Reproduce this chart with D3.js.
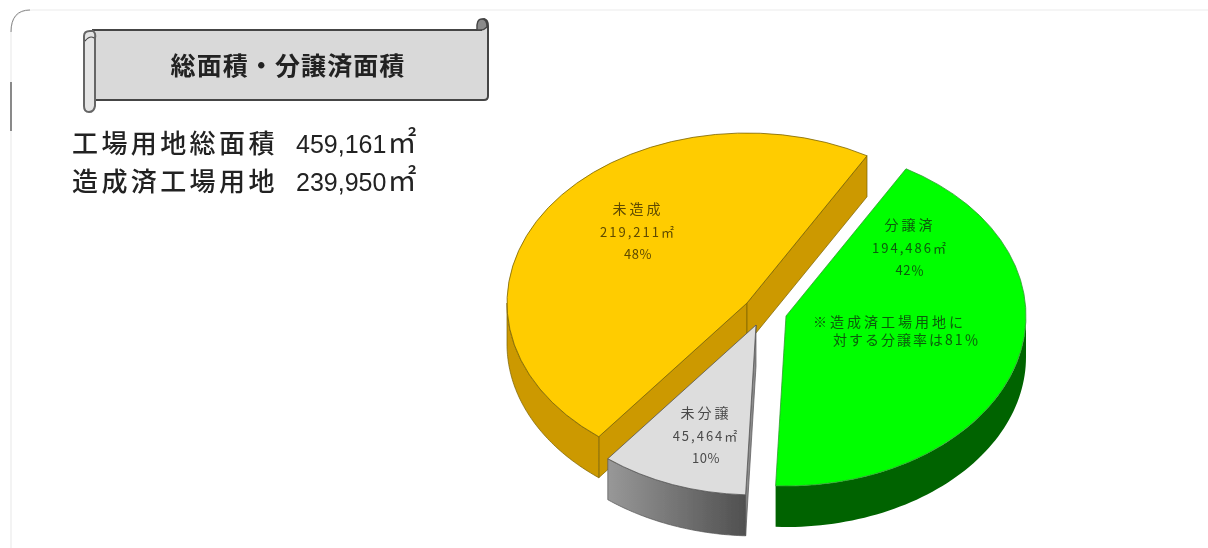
<!DOCTYPE html>
<html lang="ja">
<head>
<meta charset="UTF-8">
<title>総面積・分譲済面積</title>
<script src="https://d3js.org/d3.v7.min.js"></script>
<style>
    html, body { margin: 0; background: #fff; overflow: hidden; }
    svg { display: block; }
    text { font-family: "Noto Sans CJK JP", sans-serif; fill: #222; }
    .num { font-family: "Liberation Sans", sans-serif; }
</style>
</head>
<body>
<svg width="1208" height="548" viewBox="0 0 1208 548"></svg>
<script>
    // values
    const sliceNames = ['分譲済', '未分譲', '未造成'];
    const sliceAreas = [194486, 45464, 219211];
    const sliceAreaText = ['194,486㎡', '45,464㎡', '219,211㎡'];
    const slicePercentText = ['42％', '10%', '48%'];
    const topColors = ['#00ff00', '#dddddd', '#ffcc00'];
    const wallColors = ['#006400', 'url(#grayWall)', '#cc9900'];
    const edgeColors = ['#2f9d2f', '#555555', '#7a6200'];
    const labelColors = ['#0b5a0b', '#4a4a4a', '#5e4a00'];

    const titleText = '総面積・分譲済面積';
    const summaryNames = ['工場用地総面積', '造成済工場用地'];
    const summaryValues = ['459,161', '239,950'];
    const summaryUnit = '㎡';
    const noteLines = ['※造成済工場用地に', '対する分譲率は81％'];

    // pie layout
    const rx = 240, ry = 170, depth = 41;
    const centers = [{x: 786, y: 316}, {x: 756, y: 325}, {x: 747, y: 303}];
    const labelAt = [{x: 910, y: 225}, {x: 706, y: 413}, {x: 638, y: 209}];

    let svg = d3.select('svg');
    let defs = svg.append('defs');
    let grad = defs.append('linearGradient').attr('id', 'grayWall');
    grad.append('stop').attr('offset', '0%').attr('stop-color', '#989898');
    grad.append('stop').attr('offset', '100%').attr('stop-color', '#505050');
    let soft = defs.append('filter').attr('id', 'soft');
    soft.append('feGaussianBlur').attr('stdDeviation', 0.45);
    let softer = defs.append('filter').attr('id', 'softer');
    softer.append('feGaussianBlur').attr('stdDeviation', 0.6);

    // card outline
    svg.append('path')
        .attr('d', 'M11,548 V32 Q11,10 33,10 H1208')
        .attr('fill', 'none').attr('stroke', '#ececec').attr('stroke-width', 1.2);
    svg.append('path')
        .attr('d', 'M11,32 Q11,10 30,10')
        .attr('fill', 'none').attr('stroke', '#888').attr('stroke-width', 1);
    svg.append('line')
        .attr('x1', 11).attr('x2', 11).attr('y1', 82).attr('y2', 131)
        .attr('stroke', '#444').attr('stroke-width', 1.2);

    // scroll banner
    let banner = svg.append('g').attr('filter', 'url(#soft)')
        .attr('fill', '#d9d9d9').attr('stroke', '#444').attr('stroke-width', 2);
    banner.append('path')
        .attr('d', 'M93,30 H481 V24 Q481,19 484,19 Q488,20 488,26 V96 Q488,100 484,100 H93 Z');
    banner.append('path')
        .attr('d', 'M84,36 Q84,31 90,31 H93 Q96,33 95,38 V106 Q94,112 89,112 Q84,112 84,106 Z')
        .attr('fill', '#e4e4e4').attr('stroke', '#666');
    banner.append('path')
        .attr('d', 'M85,41 Q90,35 94,38').attr('fill', 'none').attr('stroke-width', 1.2);
    banner.append('path')
        .attr('d', 'M477,30 Q476,19 482,19 Q487,19 487,27 Q484,30 481,30 Z')
        .attr('fill', '#8a8a8a').attr('stroke-width', 1.4);

    let heading = svg.append('g').attr('filter', 'url(#soft)');
    heading.append('text')
        .attr('x', 288).attr('y', 75).attr('text-anchor', 'middle')
        .attr('font-size', 25).attr('font-weight', 700).attr('letter-spacing', 1.1)
        .text(titleText);

    summaryNames.forEach(function (name, i) {
        let y = 153 + i * 38;
        heading.append('text').attr('x', 72).attr('y', y).attr('font-weight', 500)
            .attr('font-size', 26).attr('letter-spacing', 3.4).text(name);
        let val = heading.append('text').attr('class', 'num').attr('x', 296).attr('y', y)
            .attr('font-size', 25).text(summaryValues[i]);
        val.append('tspan').attr('dx', 1)
            .style('font-family', '"Noto Sans CJK JP", sans-serif')
            .attr('font-size', 29).text(summaryUnit);
    });

    // pie
    const pie = d3.pie().sort(null).value(function (d) { return d; })
        .startAngle(Math.PI / 6).endAngle(Math.PI / 6 + 2 * Math.PI);
    const arcs = pie(sliceAreas);
    const arc = d3.arc().innerRadius(0).outerRadius(rx);
    const line = d3.line();

    function rim(c, a, dy) {
        return [c.x + rx * Math.sin(a), c.y - ry * Math.cos(a) + dy];
    }
    // the part of the rim that faces the viewer, between a0 and a1
    function rimWall(c, a0, a1) {
        let from = Math.max(a0, Math.PI / 2), to = Math.min(a1, 3 * Math.PI / 2);
        if (from >= to) return null;
        let steps = d3.range(0, 61).map(function (k) { return from + (to - from) * k / 60; });
        let upper = steps.map(function (a) { return rim(c, a, 0); });
        let lower = steps.slice().reverse().map(function (a) { return rim(c, a, depth); });
        return line(upper.concat(lower)) + 'Z';
    }
    function radialWall(c, a) {
        let p = rim(c, a, 0), q = rim(c, a, depth);
        return line([[c.x, c.y], p, q, [c.x, c.y + depth]]) + 'Z';
    }

    // radial walls that can be seen: both yellow edges, right edge of the gray slice
    const radialWalls = [[], [0], [0, 1]];
    const drawOrder = [2, 1, 0];

    let pieLayer = svg.append('g').attr('filter', 'url(#soft)');
    drawOrder.forEach(function (i) {
        let d = arcs[i], c = centers[i];
        let g = pieLayer.append('g').attr('class', 'slice');
        let ends = [d.startAngle, d.endAngle];
        radialWalls[i].forEach(function (e) {
            g.append('path').attr('d', radialWall(c, ends[e]))
                .attr('fill', i === 1 ? '#8c8c8c' : wallColors[i])
                .attr('stroke', edgeColors[i]).attr('stroke-width', 0.7);
        });
        let wall = rimWall(c, d.startAngle, d.endAngle);
        if (wall) {
            g.append('path').attr('d', wall)
                .attr('fill', wallColors[i])
                .attr('stroke', i === 0 ? 'none' : edgeColors[i]).attr('stroke-width', 0.7);
        }
        g.append('path')
            .attr('d', arc(d))
            .attr('transform', 'translate(' + c.x + ',' + c.y + ') scale(1,' + (ry / rx) + ')')
            .attr('fill', topColors[i])
            .attr('stroke', edgeColors[i]).attr('stroke-width', 0.8)
            .attr('vector-effect', 'non-scaling-stroke');
    });

    // slice labels
    let labels = svg.append('g').attr('filter', 'url(#softer)')
        .attr('text-anchor', 'middle');
    sliceNames.forEach(function (name, i) {
        let p = labelAt[i];
        [name, sliceAreaText[i], slicePercentText[i]].forEach(function (t, k) {
            labels.append('text')
                .attr('x', p.x).attr('y', p.y + k * 22.5 + 5)
                .attr('font-size', k === 0 ? 14 : 13)
                .attr('letter-spacing', [3, 2, 0.6][k])
                .style('fill', labelColors[i])
                .text(t);
        });
    });
    labels.append('text').attr('x', 813).attr('y', 327).attr('text-anchor', 'start')
        .style('fill', labelColors[0]).attr('font-size', 14)
        .attr('letter-spacing', 3).text(noteLines[0]);
    labels.append('text').attr('x', 833).attr('y', 345).attr('text-anchor', 'start')
        .style('fill', labelColors[0]).attr('font-size', 14)
        .attr('letter-spacing', 2).text(noteLines[1]);
</script>
</body>
</html>
